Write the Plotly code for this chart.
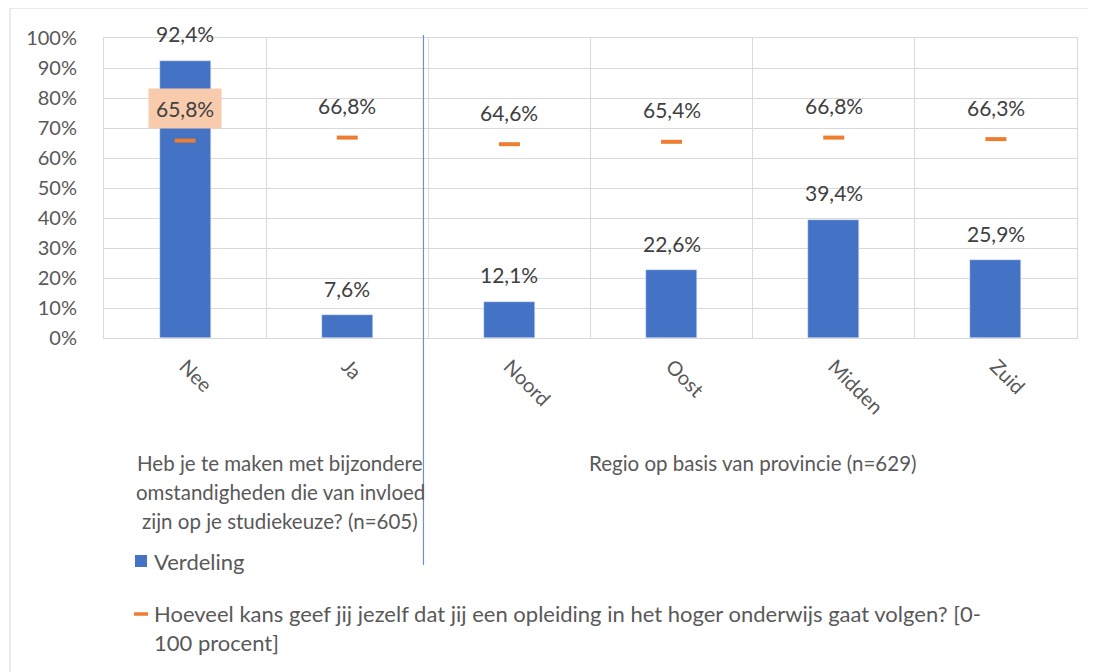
import plotly.graph_objects as go

# data
categorieen = ["Nee", "Ja", "Noord", "Oost", "Midden", "Zuid"]
verdeling = [92.4, 7.6, 12.1, 22.6, 39.4, 25.9]
kans = [65.8, 66.8, 64.6, 65.4, 66.8, 66.3]
groep_labels = [
    "Heb je te maken met bijzondere",
    "omstandigheden die van invloed",
    "zijn op je studiekeuze? (n=605)",
]
regio_label = "Regio op basis van provincie (n=629)"
legenda_bar = "Verdeling"
legenda_kans = ["Hoeveel kans geef jij jezelf dat jij een opleiding in het hoger onderwijs gaat volgen? [0-",
                "100 procent]"]

FONT = "Lato, Carlito, Calibri, sans-serif"
GRIJS = "#595959"
BLAUW = "#4472C4"
ORANJE = "#ED7D31"

# de pagina zet de figuur op (8, 8); alles in pixels van de schermafbeelding
OFF = 8
W, H = 1096 - OFF, 672 - OFF
L, R, T, B = 104, 1077, 38, 338  # plotgebied in schermpixels


def px(x):
    return (x - L) / (R - L)


def py(y):
    return (B - y) / (B - T)


def pct(v):
    return f"{v:.1f}".replace(".", ",") + "%"


fig = go.Figure()

fig.add_trace(go.Bar(
    x=categorieen, y=[v / 100 for v in verdeling], name=legenda_bar,
    marker_color=BLAUW, width=0.315, showlegend=False,
))
fig.add_trace(go.Scatter(
    x=categorieen, y=[v / 100 for v in kans], mode="markers", showlegend=False,
    marker=dict(symbol="line-ew", size=15, line=dict(width=4, color=ORANJE)),
))

# datalabels
for c, v in zip(categorieen, verdeling):
    fig.add_annotation(x=c, y=v / 100, text=pct(v), showarrow=False, yshift=27,
                       font=dict(family=FONT, size=21, color="#404040"))
for i, (c, v) in enumerate(zip(categorieen, kans)):
    extra = dict(bgcolor="#F8CBAD", borderpad=7) if i == 0 else {}
    fig.add_annotation(x=c, y=v / 100, text=pct(v), showarrow=False, yshift=32,
                       font=dict(family=FONT, size=21, color="#404040"), **extra)

# groeplabels onder de as
for i, t in enumerate(groep_labels):
    fig.add_annotation(xref="paper", yref="paper", x=px(280), y=py(463 + 29 * i), text=t,
                       showarrow=False, xanchor="center", yanchor="middle",
                       font=dict(family=FONT, size=20.5, color=GRIJS))
fig.add_annotation(xref="paper", yref="paper", x=px(753), y=py(463), text=regio_label,
                   showarrow=False, xanchor="center", yanchor="middle",
                   font=dict(family=FONT, size=20.5, color=GRIJS))

# scheidingslijn tussen groepen
fig.add_shape(type="line", xref="x", yref="paper", x0=1.47, x1=1.47, y0=py(565), y1=py(35),
              line=dict(color="#6F8FD3", width=1.2))

# legenda
fig.add_shape(type="rect", xref="paper", yref="paper", x0=px(135), x1=px(147), y0=py(567), y1=py(555),
              fillcolor=BLAUW, line_width=0)
fig.add_shape(type="line", xref="paper", yref="paper", x0=px(134), x1=px(148), y0=py(614), y1=py(614),
              line=dict(color=ORANJE, width=3.5))
fig.add_annotation(xref="paper", yref="paper", x=px(152), y=py(561), text=legenda_bar, showarrow=False,
                   xanchor="left", yanchor="middle", font=dict(family=FONT, size=22, color=GRIJS))
for i, t in enumerate(legenda_kans):
    fig.add_annotation(xref="paper", yref="paper", x=px(152), y=py(613 + 29 * i), text=t, showarrow=False,
                       xanchor="left", yanchor="middle", font=dict(family=FONT, size=22, color=GRIJS))

# rand om de grafiek (onderkant valt buiten beeld)
fig.add_shape(type="rect", xref="paper", yref="paper", x0=px(10), x1=px(1093), y0=py(690), y1=py(8),
              line=dict(color="#D9D9D9", width=1))

fig.update_layout(
    width=W, height=H,
    margin=dict(l=L - OFF, r=W - (R - OFF), t=T - OFF, b=H - (B - OFF)),
    plot_bgcolor="white", paper_bgcolor="white",
    font=dict(family=FONT, size=21, color=GRIJS),
    bargap=0,
)
fig.update_xaxes(
    type="category", range=[-0.5, 5.5], tickson="boundaries", ticks="",
    showgrid=True, gridcolor="#D9D9D9", gridwidth=1,
    showline=True, linecolor="#D9D9D9", mirror=True,
    tickangle=45, ticklabelstandoff=8,
    tickfont=dict(family=FONT, size=20, color=GRIJS),
)
fig.update_yaxes(
    range=[0, 1], dtick=0.1, tickformat=".0%",
    showgrid=True, gridcolor="#D9D9D9", gridwidth=1,
    showline=True, linecolor="#D9D9D9", mirror=True, zeroline=False,
    ticklabelstandoff=22,
    tickfont=dict(family=FONT, size=20, color=GRIJS),
)

fig.write_html("out.html")
